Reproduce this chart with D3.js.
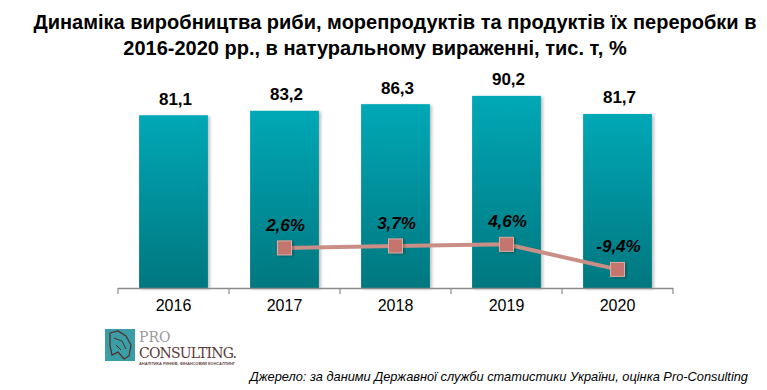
<!DOCTYPE html>
<html>
<head>
<meta charset="utf-8">
<script src="https://cdn.jsdelivr.net/npm/d3@7"></script>
<style>
  body { margin: 0; background: #fff; }
  svg { display: block; }
</style>
</head>
<body>
<div id="canvas-body"></div>
<script>
// chart data
var years = ["2016", "2017", "2018", "2019", "2020"];
var volumes = [81.1, 83.2, 86.3, 90.2, 81.7];
var growthYears = ["2017", "2018", "2019", "2020"];
var growth = [2.6, 3.7, 4.6, -9.4];

var titleLines = [
    "Динаміка виробництва риби, морепродуктів та продуктів їх переробки в",
    "2016-2020 рр., в натуральному вираженні, тис. т, %"
];
var sourceText = "Джерело: за даними Державної служби статистики України, оцінка Pro-Consulting";

const width = 767, height = 390;

var s = d3.select("#canvas-body")
    .append("svg")
    .attr("width", width)
    .attr("height", height);

// bar gradient
var defs = s.append("defs");
var grad = defs.append("linearGradient")
    .attr("id", "bar-grad")
    .attr("x1", 0).attr("y1", 0).attr("x2", 0).attr("y2", 1);
grad.append("stop").attr("offset", "0%").attr("stop-color", "#02a8b6");
grad.append("stop").attr("offset", "100%").attr("stop-color", "#00777f");

var shadow = defs.append("filter").attr("id", "shadow")
    .attr("x", "-10%").attr("y", "-10%").attr("width", "130%").attr("height", "130%");
shadow.append("feDropShadow")
    .attr("dx", 2).attr("dy", 1).attr("stdDeviation", 1.5)
    .attr("flood-color", "#000").attr("flood-opacity", 0.25);

// title
s.append("g").selectAll("text")
    .data(titleLines)
    .enter()
    .append("text")
    .attr("x", function(d, i){ return i == 0 ? 395 : 375; })
    .attr("y", function(d, i){ return 29 + i * 26; })
    .attr("text-anchor", "middle")
    .attr("font-family", "'Liberation Sans Narrow', 'Arial Narrow', sans-serif")
    .attr("font-weight", "bold")
    .attr("font-size", 20)
    .attr("fill", "#000")
    .text(function(d){ return d; });

// scales
var x = d3.scaleBand().domain(years).range([118, 673]).paddingInner(0.38).paddingOuter(0.19);
var xb = d3.scaleBand().domain(years).range([118, 673]);
var y = d3.scaleLinear().domain([0, 100]).range([288, 75]);
var yr = d3.scaleLinear().domain([-10, 5]).range([270.5, 243.6]);

// bars
s.append("g").selectAll("rect")
    .data(volumes)
    .enter()
    .append("rect")
    .attr("x", function(d, i){ return x(years[i]); })
    .attr("y", function(d){ return y(d); })
    .attr("width", x.bandwidth())
    .attr("height", function(d){ return y(0) - y(d); })
    .attr("fill", "url(#bar-grad)")
    .attr("filter", "url(#shadow)");

// bar labels
s.append("g").selectAll("text")
    .data(volumes)
    .enter()
    .append("text")
    .attr("x", function(d, i){ return x(years[i]) + x.bandwidth() / 2 + 2; })
    .attr("y", function(d){ return y(d) - 10.5; })
    .attr("text-anchor", "middle")
    .attr("font-family", "'Liberation Sans', Arial, sans-serif")
    .attr("font-weight", "bold")
    .attr("font-size", 17)
    .text(function(d){ return d.toFixed(1).replace(".", ","); });

// x axis
var xaxis = d3.axisBottom(xb).tickSize(0).tickPadding(0);
var ax = s.append("g")
    .attr("transform", "translate(0,288)")
    .call(xaxis);
ax.select(".domain").remove();
ax.selectAll("text")
    .attr("dy", null)
    .attr("y", 23)
    .attr("font-family", "'Liberation Sans', Arial, sans-serif")
    .attr("font-size", 16)
    .attr("fill", "#000");
ax.append("line")
    .attr("x1", 118).attr("x2", 673)
    .attr("y1", 0.5).attr("y2", 0.5)
    .attr("stroke", "#8c8c8c").attr("stroke-width", 1.5);
ax.selectAll(".sep")
    .data(d3.range(years.length + 1))
    .enter()
    .append("line")
    .attr("x1", function(d){ return 118 + d * xb.bandwidth(); })
    .attr("x2", function(d){ return 118 + d * xb.bandwidth(); })
    .attr("y1", 0).attr("y2", 6)
    .attr("stroke", "#8c8c8c").attr("stroke-width", 1.2);

// growth line
var cx = function(d, i){ return x(growthYears[i]) + x.bandwidth() / 2; };
var line = d3.line()
    .x(function(d, i){ return cx(d, i); })
    .y(function(d){ return yr(d); });
s.append("path")
    .attr("d", line(growth))
    .attr("fill", "none")
    .attr("stroke", "#c98f87")
    .attr("stroke-width", 4);

s.append("g").selectAll("rect")
    .data(growth)
    .enter()
    .append("rect")
    .attr("x", function(d, i){ return cx(d, i) - 7; })
    .attr("y", function(d){ return yr(d) - 7; })
    .attr("width", 14).attr("height", 14)
    .attr("fill", "#c4756d")
    .attr("stroke", "#e0aaa3")
    .attr("stroke-width", 1)
    .attr("filter", "url(#shadow)");

s.append("g").selectAll("text")
    .data(growth)
    .enter()
    .append("text")
    .attr("x", function(d, i){ return cx(d, i) + 1; })
    .attr("y", function(d){ return yr(d) - 17; })
    .attr("text-anchor", "middle")
    .attr("font-family", "'Liberation Sans', Arial, sans-serif")
    .attr("font-weight", "bold")
    .attr("font-style", "italic")
    .attr("font-size", 17)
    .text(function(d){ return d.toFixed(1).replace(".", ",") + "%"; });

// logo
var logo = s.append("g");
logo.append("rect")
    .attr("x", 105).attr("y", 329).attr("width", 30).attr("height", 32)
    .attr("fill", "#3a9ea6");
logo.append("path")
    .attr("d", "M110,333 L118,331 L126,336 L131,345 L129,356 L124,359 L118,352 L112,355 L110,346 Z")
    .attr("fill", "none").attr("stroke", "#5a2a2a").attr("stroke-width", 1.2);
logo.append("path")
    .attr("d", "M114,338 L122,341 L126,349 M116,345 L121,350")
    .attr("fill", "none").attr("stroke", "#5a2a2a").attr("stroke-width", 1);
logo.append("text")
    .attr("x", 139).attr("y", 342)
    .attr("font-family", "'DejaVu Serif', serif")
    .attr("font-size", 14)
    .attr("fill", "#9a9a9a")
    .text("PRO");
logo.append("text")
    .attr("x", 139).attr("y", 358)
    .attr("font-family", "'DejaVu Serif', serif")
    .attr("font-size", 14)
    .attr("fill", "#5a3a3a")
    .attr("textLength", 98)
    .text("CONSULTING.");
logo.append("text")
    .attr("x", 139).attr("y", 365)
    .attr("font-family", "'Liberation Sans', Arial, sans-serif")
    .attr("font-size", 4)
    .attr("font-weight", "bold")
    .attr("fill", "#6a4a4a")
    .attr("textLength", 96)
    .text("АНАЛІТИКА РИНКІВ. ФІНАНСОВИЙ КОНСАЛТИНГ");

// source
s.append("text")
    .attr("x", 748).attr("y", 381)
    .attr("text-anchor", "end")
    .attr("font-family", "'Liberation Sans', Arial, sans-serif")
    .attr("font-style", "italic")
    .attr("font-size", 12.8)
    .attr("fill", "#000")
    .text(sourceText);
</script>
</body>
</html>
